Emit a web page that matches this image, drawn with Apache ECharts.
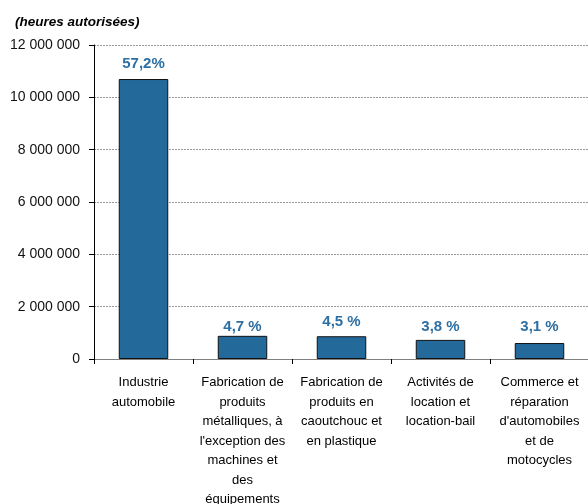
<!DOCTYPE html>
<html>
<head>
<meta charset="utf-8">
<script src="https://cdn.jsdelivr.net/npm/echarts@6/dist/echarts.min.js"></script>
<style>
  html, body { margin: 0; padding: 0; background: #fff; }
  #chart { width: 588px; height: 504px; }
</style>
</head>
<body>
<div id="chart"></div>
<script>
// secteurs (retours à la ligne comme dans l'original)
const categories = [
  "Industrie\nautomobile",
  "Fabrication de\nproduits\nmétalliques, à\nl'exception des\nmachines et\ndes\néquipements",
  "Fabrication de\nproduits en\ncaoutchouc et\nen plastique",
  "Activités de\nlocation et\nlocation-bail",
  "Commerce et\nréparation\nd'automobiles\net de\nmotocycles"
];
const hours = [10700000, 885000, 870000, 730000, 610000];
const shares = ["57,2%", "4,7 %", "4,5 %", "3,8 %", "3,1 %"];
// écart étiquette / barre, comme dans l'original
const labelGap = [8, 1, 7, 6, 9];

const chart = echarts.init(document.getElementById("chart"));

function fmt(v) {
  return String(v).replace(/\B(?=(\d{3})+(?!\d))/g, " ");
}

chart.setOption({
  animation: false,
  title: {
    text: "(heures autorisées)",
    left: 10,
    top: 10,
    textStyle: {
      fontFamily: "Liberation Sans, Arial",
      fontSize: 13.5,
      fontWeight: "bold",
      fontStyle: "italic",
      color: "#000"
    }
  },
  grid: { left: 94, right: -1, top: 45, bottom: 145, outerBoundsMode: "none", containLabel: false },
  xAxis: {
    type: "category",
    data: categories,
    axisLine: { lineStyle: { color: "#808080", width: 1 } },
    axisTick: { show: true, length: 5, lineStyle: { color: "#000" } },
    axisLabel: {
      interval: 0,
      margin: 14,
      fontFamily: "Liberation Sans, Arial",
      fontSize: 13,
      lineHeight: 19.5,
      color: "#000"
    }
  },
  yAxis: {
    type: "value",
    min: 0,
    max: 12000000,
    interval: 2000000,
    axisLine: { show: true, lineStyle: { color: "#000", width: 1 } },
    axisTick: { show: true, length: 5, lineStyle: { color: "#000" } },
    splitLine: { lineStyle: { color: "#9a9a9a", type: [2, 1], width: 1 } },
    axisLabel: {
      margin: 14,
      fontFamily: "Liberation Sans, Arial",
      fontSize: 14,
      color: "#111",
      formatter: fmt
    }
  },
  series: [{
    type: "bar",
    data: hours.map((v, i) => ({
      value: v,
      label: { distance: labelGap[i] }
    })),
    barWidth: "50%",
    itemStyle: { color: "#236A9A", borderColor: "#111", borderWidth: 1 },
    label: {
      show: true,
      position: "top",
      formatter: p => shares[p.dataIndex],
      fontFamily: "Liberation Sans, Arial",
      fontSize: 15,
      fontWeight: "bold",
      color: "#2D6FA3"
    }
  }]
});
</script>
</body>
</html>
